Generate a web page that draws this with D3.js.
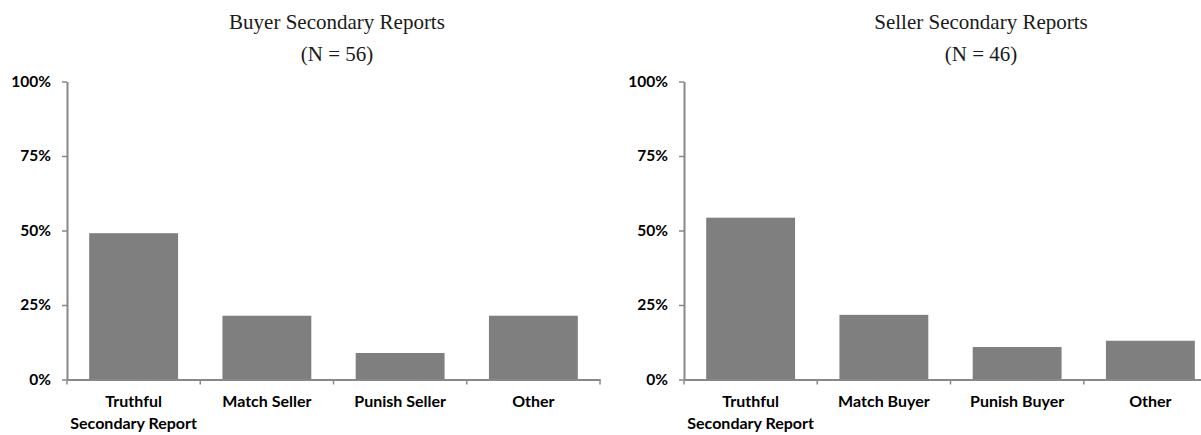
<!DOCTYPE html>
<html>
<head>
<meta charset="utf-8">
<script src="https://cdn.jsdelivr.net/npm/d3@7"></script>
<style>
  body { margin: 0; background: #fff; }
  .tick text { font-family: Lato, "Open Sans", sans-serif; font-weight: bold; fill: #000; }
  .title { font-family: "Liberation Serif", serif; fill: #1a1a1a; }
</style>
</head>
<body>
<div id="wrapper"></div>
<script>
// data
const buyerCategories = ["Truthful\nSecondary Report", "Match Seller", "Punish Seller", "Other"]
const buyerShares = [0.491, 0.214, 0.089, 0.214]
const sellerCategories = ["Truthful\nSecondary Report", "Match Buyer", "Punish Buyer", "Other"]
const sellerShares = [0.543, 0.217, 0.109, 0.130]
const yTicks = [0, 0.25, 0.5, 0.75, 1]
const titles = [
  ["Buyer Secondary Reports", "(N = 56)"],
  ["Seller Secondary Reports", "(N = 46)"],
]

function drawChart() {

  // 1. Chart dimensions

  let dimensions = {
    width: 1201,
    height: 435,
    plotWidth: 533,
    top: 81.5,
    bottom: 379.5,
  }

  // 2. Draw canvas

  const wrapper = d3.select("#wrapper")
    .append("svg")
    .attr("width", dimensions.width)
    .attr("height", dimensions.height)

  const panels = [
    { left: 67, titleX: 337, categories: buyerCategories, values: buyerShares, title: titles[0] },
    { left: 684, titleX: 981, categories: sellerCategories, values: sellerShares, title: titles[1] },
  ]

  panels.forEach(p => {
    const bounds = wrapper.append("g")

    // 3. Scales
    const xScale = d3.scaleBand()
      .domain(p.categories)
      .range([p.left, p.left + dimensions.plotWidth])
      .paddingInner(0.333)
      .paddingOuter(0.1665)

    const yScale = d3.scaleLinear()
      .domain([0, 1])
      .range([dimensions.bottom, dimensions.top])

    // bars
    bounds.selectAll("rect")
      .data(p.values)
      .enter().append("rect")
      .attr("x", (d, i) => xScale(p.categories[i]))
      .attr("width", xScale.bandwidth())
      .attr("y", d => yScale(d))
      .attr("height", d => yScale(0) - yScale(d))
      .attr("fill", "#7f7f7f")

    // y axis
    const yAxisGen = d3.axisLeft(yScale)
      .tickValues(yTicks)
      .tickFormat(d3.format(".0%"))
      .tickSize(5)
      .tickSizeOuter(0)
      .tickPadding(11)
    const axisY = bounds.append("g")
      .attr("transform", `translate(${p.left},0)`)
      .call(yAxisGen)
    axisY.selectAll("text").style("font-size", "15.5px")

    // x axis: labels centred in bands
    const xAxisGen = d3.axisBottom(xScale).tickSize(0).tickSizeOuter(0).tickPadding(16)
    const axisX = bounds.append("g")
      .attr("transform", `translate(0,${dimensions.bottom})`)
      .call(xAxisGen)
    axisX.selectAll("text")
      .style("font-size", "16px")
      .each(function(d) {
        const lines = d.split("\n")
        const t = d3.select(this).text(null)
        lines.forEach((l, i) => t.append("tspan").attr("x", 0).attr("dy", i === 0 ? "0.71em" : "1.4em").text(l))
      })

    // boundary tick marks between categories
    const gap = xScale.step() - xScale.bandwidth()
    const edges = p.categories.map(c => xScale(c) - gap / 2).concat([xScale.range()[1]])
    bounds.selectAll(".xtick")
      .data(edges)
      .enter().append("line")
      .attr("class", "xtick")
      .attr("x1", d => d).attr("x2", d => d)
      .attr("y1", dimensions.bottom).attr("y2", dimensions.bottom + 5)
      .attr("stroke", "#888").attr("stroke-width", 1.5)

    // axis styling
    bounds.selectAll(".domain").attr("stroke", "#888").attr("stroke-width", 2)
    axisY.selectAll(".tick line").attr("stroke", "#888").attr("stroke-width", 1.5)

    // title
    const title = bounds.append("text")
      .attr("class", "title")
      .attr("text-anchor", "middle")
      .style("font-size", "21px")
    title.append("tspan").attr("x", p.titleX).attr("y", 29).text(p.title[0])
    title.append("tspan").attr("x", p.titleX).attr("y", 61).text(p.title[1])
  })
}
drawChart()
</script>
</body>
</html>
